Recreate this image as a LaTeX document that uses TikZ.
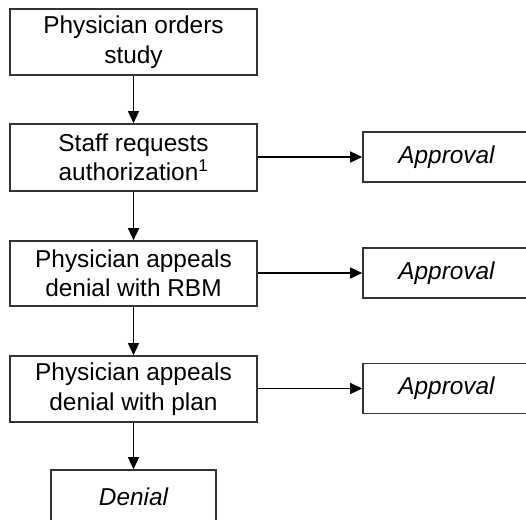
\documentclass[tikz,border=0pt]{standalone}
\usepackage{fontspec}
\setmainfont{Liberation Sans}
\usetikzlibrary{arrows.meta}
\definecolor{linec}{HTML}{333333}
\tikzset{
  stepbox/.style={draw=linec, line width=1.6pt, minimum width=247pt, align=center,
    font=\fontsize{24.4pt}{29.5pt}\selectfont, inner sep=0pt},
  outbox/.style={draw=linec, line width=1.6pt, minimum width=167pt, minimum height=50pt,
    font=\fontsize{24.4pt}{29.5pt}\selectfont\itshape, inner sep=0pt},
  conn/.style={draw=black, line width=1.3pt, -{Triangle[length=12pt,width=11pt]}}
}
\begin{document}
\begin{tikzpicture}[x=1pt,y=-1pt]
\useasboundingbox (0,0) rectangle (526,519);
\node[stepbox, minimum height=66pt] (b1) at (133.5,42) {Physician orders\\study};
\node[stepbox, minimum height=67pt] (b2) at (133.5,157.5) {Staff requests\\authorization\textsuperscript{1}};
\node[stepbox, minimum height=65pt] (b3) at (133.5,273.5) {Physician appeals\\denial with RBM};
\node[stepbox, minimum height=66pt] (b4) at (133.5,389) {Physician appeals\\denial with plan};
\node[outbox, minimum width=165pt, minimum height=54pt] (d) at (133.5,497) {Denial};
\node[outbox] (a1) at (446.5,157) {Approval};
\node[outbox] (a2) at (446.5,273) {Approval};
\node[outbox] (a3) at (446.5,388.5) {Approval};
\draw[conn] (b1) -- (b2);
\draw[conn] (b2) -- (b3);
\draw[conn] (b3) -- (b4);
\draw[conn] (b4) -- (d);
\draw[conn] (b2.east |- a1) -- (a1.west);
\draw[conn] (b3.east |- a2) -- (a2.west);
\draw[conn] (b4.east |- a3) -- (a3.west);
\end{tikzpicture}
\end{document}
